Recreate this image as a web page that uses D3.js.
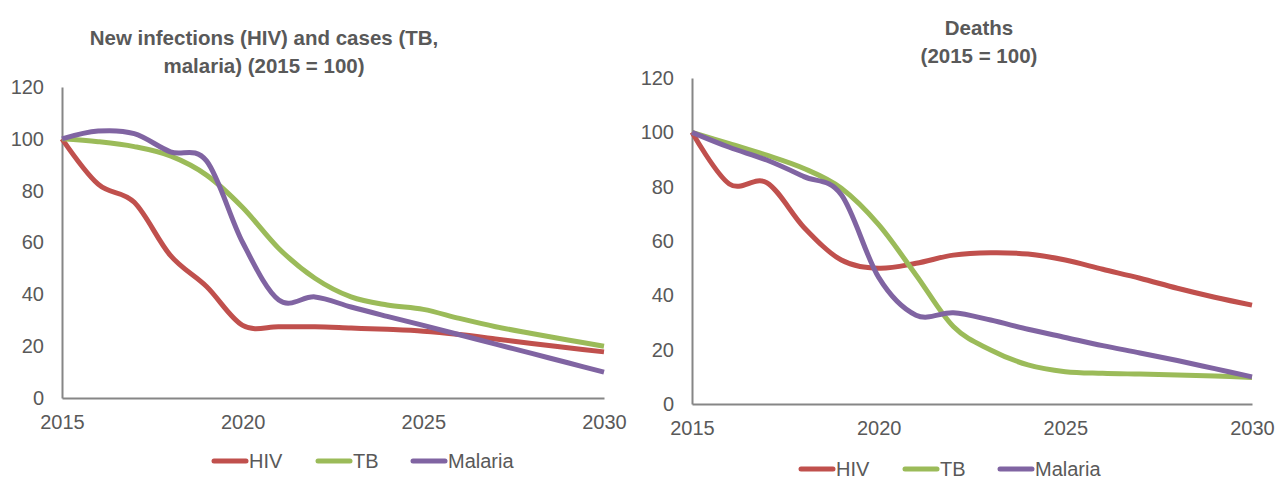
<!DOCTYPE html>
<html>
<head>
<meta charset="utf-8">
<script src="https://cdn.jsdelivr.net/npm/d3@7"></script>
<style>
  html, body { margin: 0; padding: 0; background: #fff; }
  svg { display: block; font-family: "Liberation Sans", Arial, sans-serif; }
  .tick text { fill: #595959; font-size: 20px; }
  .title { fill: #595959; font-size: 20.5px; font-weight: bold; text-anchor: middle; }
  .legend text { fill: #595959; font-size: 20px; }
</style>
</head>
<body>
<svg id="chart" width="1276" height="479"></svg>
<script>
// --- Data ----------------------------------------------------------
const years = [2015, 2016, 2017, 2018, 2019, 2020, 2021, 2022, 2023, 2024, 2025, 2026, 2027, 2028, 2029, 2030];
const seriesNames = ["HIV", "TB", "Malaria"];

// new infections / cases, 2015 = 100
const hivNew = [100, 82.5, 75.5, 55, 43, 28, 27.5, 27.5, 27, 26.5, 25.8, 24.5, 22.8, 21, 19.4, 17.8];
const tbNew = [100, 98.9, 97, 93.4, 86, 73.5, 57.7, 46.2, 39, 35.9, 34.2, 30.7, 27.5, 24.9, 22.4, 20];
const malariaNew = [100, 103, 102, 95, 91.5, 60, 37.8, 39, 35.1, 31.5, 28, 24.4, 20.8, 17.2, 13.6, 10];

// deaths, 2015 = 100
const hivDeaths = [100, 81, 81.5, 65, 53, 50, 51.8, 54.8, 55.7, 55.2, 53, 49.6, 46.3, 42.6, 39.3, 36.4];
const tbDeaths = [100, 95.8, 91.6, 86.7, 79.4, 66, 47.5, 28.5, 19.9, 14.4, 11.9, 11.3, 11, 10.7, 10.3, 9.8];
const malariaDeaths = [100, 94.5, 89.8, 83.7, 77, 46.6, 32.7, 33.6, 30.9, 27.5, 24.5, 21.5, 18.8, 16, 13, 10];

const yTicks = [0, 20, 40, 60, 80, 100, 120];
const xTicks = [2015, 2020, 2025, 2030];
const leftTitle = ["New infections (HIV) and cases (TB,", "malaria) (2015 = 100)"];
const rightTitle = ["Deaths", "(2015 = 100)"];

// --- Style ---------------------------------------------------------
const colors = { HIV: "#C0504D", TB: "#9BBB59", Malaria: "#8064A2" };
const axisColor = "#868686";

(function () {
  const svg = d3.select("#chart");

  const panels = [
    {
      series: [hivNew, tbNew, malariaNew],
      title: leftTitle, titleX: 264, titleY: [45, 73],
      x0: 62, x1: 604, yTop: 87, yBottom: 398,
      legendX: 214, legendY: 461, legendGap: [0, 104, 199],
    },
    {
      series: [hivDeaths, tbDeaths, malariaDeaths],
      title: rightTitle, titleX: 979, titleY: [35, 63],
      x0: 692, x1: 1252, yTop: 78, yBottom: 404,
      legendX: 801, legendY: 469, legendGap: [0, 104, 199],
    },
  ];

  panels.forEach((p) => {
    const x = d3.scaleLinear().domain([2015, 2030]).range([p.x0, p.x1]);
    const y = d3.scaleLinear().domain([0, 120]).range([p.yBottom, p.yTop]);

    // titles
    p.title.forEach((t, i) => {
      svg.append("text").attr("class", "title")
        .attr("x", p.titleX).attr("y", p.titleY[i]).text(t);
    });

    // axes (no tick marks, just the axis lines)
    const yAxis = svg.append("g")
      .attr("transform", `translate(${p.x0},0)`)
      .call(d3.axisLeft(y).tickValues(yTicks).tickSize(0).tickPadding(18));
    const xAxis = svg.append("g")
      .attr("transform", `translate(0,${p.yBottom})`)
      .call(d3.axisBottom(x).tickValues(xTicks).tickFormat(d3.format("d")).tickSize(0).tickPadding(17));
    [yAxis, xAxis].forEach((a) => {
      a.attr("font-family", null).attr("font-size", null);
      a.select(".domain").attr("stroke", axisColor).attr("stroke-width", 2);
    });

    // smoothed lines
    const line = d3.line()
      .x((d, i) => x(years[i]))
      .y((d) => y(d))
      .curve(d3.curveCardinal.tension(0));

    p.series.forEach((vals, si) => {
      svg.append("path")
        .datum(vals)
        .attr("fill", "none")
        .attr("stroke", colors[seriesNames[si]])
        .attr("stroke-width", 5)
        .attr("stroke-linejoin", "round")
        .attr("d", line);
    });

    // legend
    const lg = svg.append("g").attr("class", "legend");
    seriesNames.forEach((name, i) => {
      const lx = p.legendX + p.legendGap[i];
      lg.append("line")
        .attr("x1", lx).attr("x2", lx + 32)
        .attr("y1", p.legendY).attr("y2", p.legendY)
        .attr("stroke", colors[name]).attr("stroke-width", 5)
        .attr("stroke-linecap", "round");
      lg.append("text")
        .attr("x", lx + 35).attr("y", p.legendY + 7)
        .text(name);
    });
  });
})();
</script>
</body>
</html>
